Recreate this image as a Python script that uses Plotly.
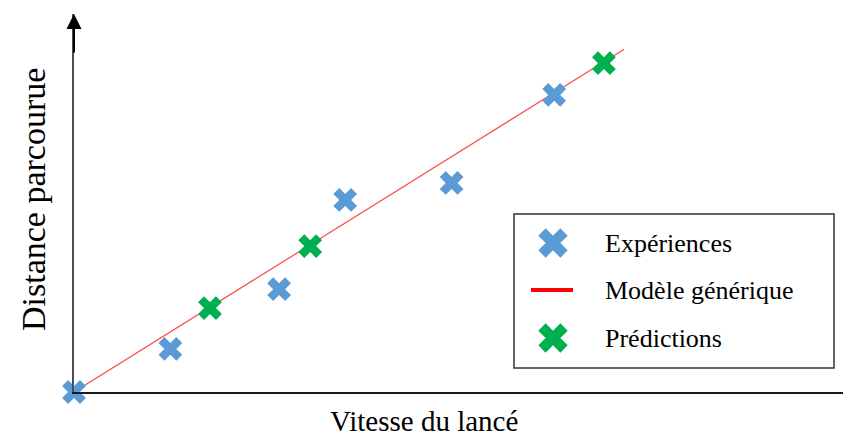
import plotly.graph_objects as go

# Data (arbitrary units)
exp_x = [0.0, 12.4, 26.4, 34.9, 48.6, 61.8]
exp_y = [0.0, 11.4, 27.2, 50.8, 55.3, 78.6]
pred_x = [17.5, 30.4, 68.2]
pred_y = [22.2, 38.6, 87.0]
model_x = [0.0, 70.8]
model_y = [0.0, 90.7]

labels = ["Expériences", "Modèle générique", "Prédictions"]
x_title = "Vitesse du lancé"
y_title = "Distance parcourue"

BLUE = "#5B9BD5"
GREEN = "#00B050"
RED = "#FF0000"
SERIF = "Liberation Serif"

# page has an 8px body margin; figure sized to fill the 851x436 window
W, H = 843, 428
ML, MT, MB = 66, 6, 44
plot_w = W - ML
plot_h = H - MT - MB
OX, OY = 8, 8  # page offset

def px_x(px):  # window pixel -> paper x
    return (px - OX - ML) / plot_w

def px_y(py):  # window pixel -> paper y
    return (OY + MT + plot_h - py) / plot_h

fig = go.Figure()

fig.add_trace(go.Scatter(x=model_x, y=model_y, mode="lines",
                         line=dict(color="rgba(255,40,40,0.85)", width=1.2),
                         showlegend=False, hoverinfo="skip"))
fig.add_trace(go.Scatter(x=exp_x, y=exp_y, mode="markers", name=labels[0],
                         marker=dict(symbol="x", size=21, color=BLUE),
                         showlegend=False, cliponaxis=False))
fig.add_trace(go.Scatter(x=pred_x, y=pred_y, mode="markers", name=labels[2],
                         marker=dict(symbol="x", size=21, color=GREEN),
                         showlegend=False, cliponaxis=False))

# ---- custom legend box (window-pixel layout on an overlay axis) ----
leg_left, leg_top, leg_right, leg_bottom = 514, 214, 834, 368
sym_x, text_x = 553, 603
rows = [243, 290, 338]

fig.add_trace(go.Scatter(x=[sym_x, sym_x], y=[rows[0], rows[2]], mode="markers",
                         marker=dict(symbol="x", size=26, color=[BLUE, GREEN]),
                         xaxis="x2", yaxis="y2", showlegend=False, hoverinfo="skip",
                         cliponaxis=False))
fig.add_trace(go.Scatter(x=[531, 573], y=[rows[1], rows[1]], mode="lines",
                         line=dict(color=RED, width=4),
                         xaxis="x2", yaxis="y2", showlegend=False, hoverinfo="skip",
                         cliponaxis=False))

fig.update_layout(
    width=W, height=H,
    margin=dict(l=ML, r=0, t=MT, b=MB),
    paper_bgcolor="white", plot_bgcolor="white",
    font=dict(family=SERIF, color="black"),
    xaxis=dict(range=[0, 100], showgrid=False, zeroline=False, showticklabels=False,
               ticks="", showline=True, linecolor="#1a1a1a", linewidth=2),
    yaxis=dict(range=[0, 100], showgrid=False, zeroline=False, showticklabels=False,
               ticks="", showline=True, linecolor="#4d4d4d", linewidth=2),
    xaxis2=dict(overlaying="x", range=[OX + ML, OX + W], visible=False),
    yaxis2=dict(overlaying="y", range=[OY + MT + plot_h, OY + MT], visible=False),
)

fig.add_shape(type="rect", xref="x2", yref="y2", x0=leg_left, x1=leg_right,
              y0=leg_top, y1=leg_bottom, line=dict(color="#333", width=1.5),
              fillcolor="rgba(0,0,0,0)", layer="below")
for lab, ry in zip(labels, rows):
    fig.add_annotation(x=text_x, y=ry, xref="x2", yref="y2", text=lab, showarrow=False,
                       xanchor="left", yanchor="middle",
                       font=dict(family=SERIF, size=26, color="black"))

fig.add_annotation(x=0, y=100, xref="x", yref="y", ax=0, ay=40, text="",
                   showarrow=True, arrowhead=2, arrowsize=1.5, arrowwidth=2,
                   arrowcolor="black")
fig.add_annotation(x=px_x(424), y=px_y(421), xref="paper", yref="paper",
                   text=x_title, showarrow=False, xanchor="center", yanchor="middle",
                   font=dict(family=SERIF, size=29, color="black"))
fig.add_annotation(x=px_x(33), y=px_y(200), xref="paper", yref="paper",
                   text=y_title, textangle=-90, showarrow=False,
                   xanchor="center", yanchor="middle",
                   font=dict(family=SERIF, size=34, color="black"))

fig.write_html("out.html")
